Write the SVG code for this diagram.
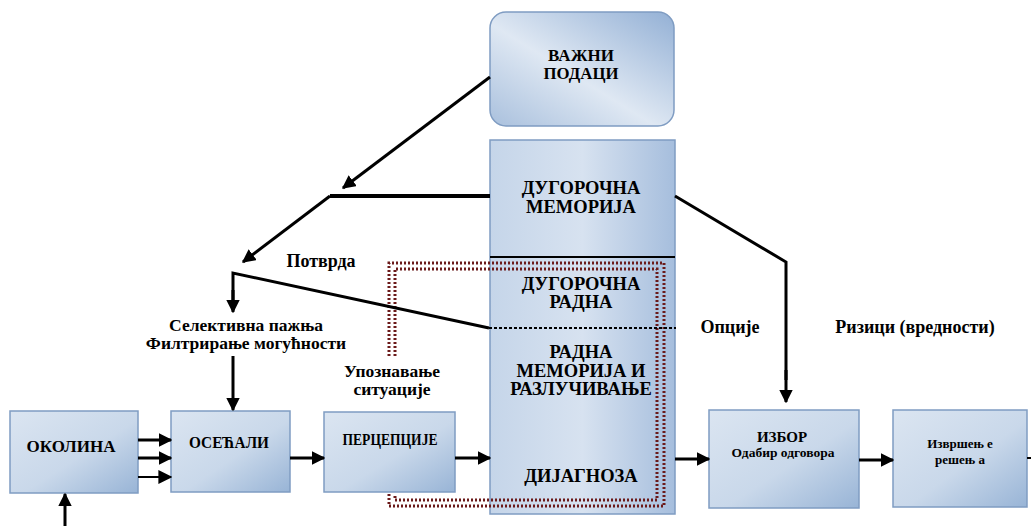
<svg xmlns="http://www.w3.org/2000/svg" width="1031" height="526" viewBox="0 0 1031 526">
<defs>
<linearGradient id="g" x1="0" y1="0" x2="1" y2="1">
<stop offset="0" stop-color="#dbe5f1"/>
<stop offset="0.55" stop-color="#c9d8ea"/>
<stop offset="1" stop-color="#98b4d6"/>
</linearGradient>
<linearGradient id="gb" x1="0" y1="1" x2="1" y2="0">
<stop offset="0" stop-color="#a9c0dd"/>
<stop offset="0.45" stop-color="#dfe8f3"/>
<stop offset="1" stop-color="#93b0d5"/>
</linearGradient>
<linearGradient id="gc" x1="0" y1="0" x2="1" y2="0">
<stop offset="0" stop-color="#c5d5e9"/>
<stop offset="0.5" stop-color="#d7e2f0"/>
<stop offset="1" stop-color="#a6bedd"/>
</linearGradient>
<marker id="ah" viewBox="0 0 10 10" refX="9" refY="5" markerWidth="4.5" markerHeight="4.5" orient="auto" markerUnits="strokeWidth">
<path d="M0,0 L10,5 L0,10 z" fill="#000"/>
</marker>
<marker id="ah2" viewBox="0 0 10 10" refX="9" refY="5" markerWidth="7" markerHeight="7" orient="auto" markerUnits="strokeWidth">
<path d="M0,0 L10,5 L0,10 z" fill="#000"/>
</marker>
</defs>
<style>
.box{fill:url(#g);stroke:#7f9cc2;stroke-width:1.5}
.t{font-family:'Liberation Serif','Times New Roman',serif;font-weight:bold;font-size:18px;fill:#000;text-anchor:middle}
.c{font-size:18.5px}
.b{font-size:17px}
.l{font-size:17.5px}
.ln{fill:none;stroke:#000;stroke-width:3}
.dot{fill:none;stroke:#6b1a1a;stroke-width:3;stroke-dasharray:2 2}
.dot2{fill:none;stroke:#000;stroke-width:2;stroke-dasharray:3 2}
</style>

<g id="vazni-podaci">
<rect x="490" y="12" width="184" height="114" rx="16" fill="url(#gb)" stroke="#7f9cc2" stroke-width="1.5"/>
<text class="t b" x="581" y="61">ВАЖНИ</text>
<text class="t b" x="581" y="79" textLength="75" lengthAdjust="spacingAndGlyphs">ПОДАЦИ</text>
</g>

<g id="kolona">
<rect x="490" y="140" width="185" height="374" fill="url(#gc)" stroke="#7f9cc2" stroke-width="1.5"/>
<line x1="490" y1="257" x2="675" y2="257" stroke="#000" stroke-width="2"/>
</g>
<g id="dugorocna-memorija">
<text class="t c" x="581" y="194">ДУГОРОЧНА</text>
<text class="t c" x="581" y="213">МЕМОРИЈА</text>
</g>
<g id="radna-okvir">
<path class="dot" d="M389,356 V263 H664 V506 H389 V494"/>
<path class="dot" d="M395,356 V269 H657 V500 H395 V494"/>
</g>
<g id="dugorocna-radna">
<text class="t c" x="581" y="290">ДУГОРОЧНА</text>
<text class="t c" x="581" y="308">РАДНА</text>
</g>
<g id="radna-memorija">
<text class="t c" x="581" y="358">РАДНА</text>
<text class="t c" x="581" y="377">МЕМОРИЈА И</text>
<text class="t c" x="581" y="395">РАЗЛУЧИВАЊЕ</text>
</g>
<g id="dijagnoza">
<text class="t c" x="581" y="482">ДИЈАГНОЗА</text>
</g>

<g id="okolina">
<rect class="box" x="10" y="411" width="128" height="82"/>
<text class="t b" x="71" y="452">ОКОЛИНА</text>
</g>
<g id="osecaji">
<rect class="box" x="171" y="411" width="119" height="81"/>
<text class="t b" x="229" y="448" textLength="80" lengthAdjust="spacingAndGlyphs">ОСЕЋАЛИ</text>
</g>
<g id="percepcije">
<rect class="box" x="324" y="412" width="131" height="80"/>
<text class="t b" x="390" y="445" textLength="95" lengthAdjust="spacingAndGlyphs">ПЕРЦЕПЦИЈЕ</text>
</g>
<g id="izbor">
<rect class="box" x="709" y="410" width="150" height="98"/>
<text class="t" x="782" y="442" style="font-size:15px">ИЗБОР</text>
<text class="t" x="783" y="457" style="font-size:13.5px">Одабир одговора</text>
</g>
<g id="izvrsenje">
<rect class="box" x="893" y="410" width="134" height="97"/>
<text class="t" x="960" y="448" style="font-size:13px">Извршењ е</text>
<text class="t" x="960" y="464" style="font-size:13px">решењ а</text>
</g>

<g id="labels">
<text class="t" x="321" y="267">Потврда</text>
<text class="t l" x="246" y="331">Селективна пажња</text>
<text class="t l" x="246" y="349">Филтрирање могућности</text>
<text class="t l" x="392" y="377">Упознавање</text>
<text class="t l" x="392" y="395">ситуације</text>
<text class="t" x="730" y="333">Опције</text>
<text class="t" x="915" y="333">Ризици (вредности)</text>
</g>

<g id="connectors">
<line class="ln" x1="490" y1="77" x2="343" y2="188" marker-end="url(#ah)"/>
<line x1="330" y1="196" x2="490" y2="196" stroke="#000" stroke-width="4"/>
<line class="ln" x1="330" y1="196" x2="243" y2="262" marker-end="url(#ah)"/>
<polyline class="ln" points="233,310 233,273 489,328"/>
<line class="ln" x1="233" y1="290" x2="233" y2="312" marker-end="url(#ah)"/>
<line class="dot2" x1="489" y1="328" x2="676" y2="328"/>
<line class="ln" x1="233" y1="356" x2="233" y2="410" marker-end="url(#ah)"/>
<polyline class="ln" points="675,196 786,262 786,380"/>
<line class="ln" x1="786" y1="370" x2="786" y2="402" marker-end="url(#ah)"/>
<line class="ln" x1="138" y1="440" x2="171" y2="440" marker-end="url(#ah)"/>
<line class="ln" x1="138" y1="458" x2="171" y2="458" marker-end="url(#ah)"/>
<line x1="138" y1="477" x2="171" y2="477" stroke="#000" stroke-width="2" marker-end="url(#ah2)"/>
<line class="ln" x1="290" y1="458" x2="324" y2="458" marker-end="url(#ah)"/>
<line class="ln" x1="455" y1="458" x2="490" y2="458" marker-end="url(#ah)"/>
<line class="ln" x1="675" y1="459" x2="709" y2="459" marker-end="url(#ah)"/>
<line class="ln" x1="859" y1="460" x2="893" y2="460" marker-end="url(#ah)"/>
<line x1="1027" y1="458" x2="1031" y2="458" stroke="#000" stroke-width="2"/>
<line class="ln" x1="65" y1="526" x2="65" y2="494" marker-end="url(#ah)"/>
</g>
</svg>
